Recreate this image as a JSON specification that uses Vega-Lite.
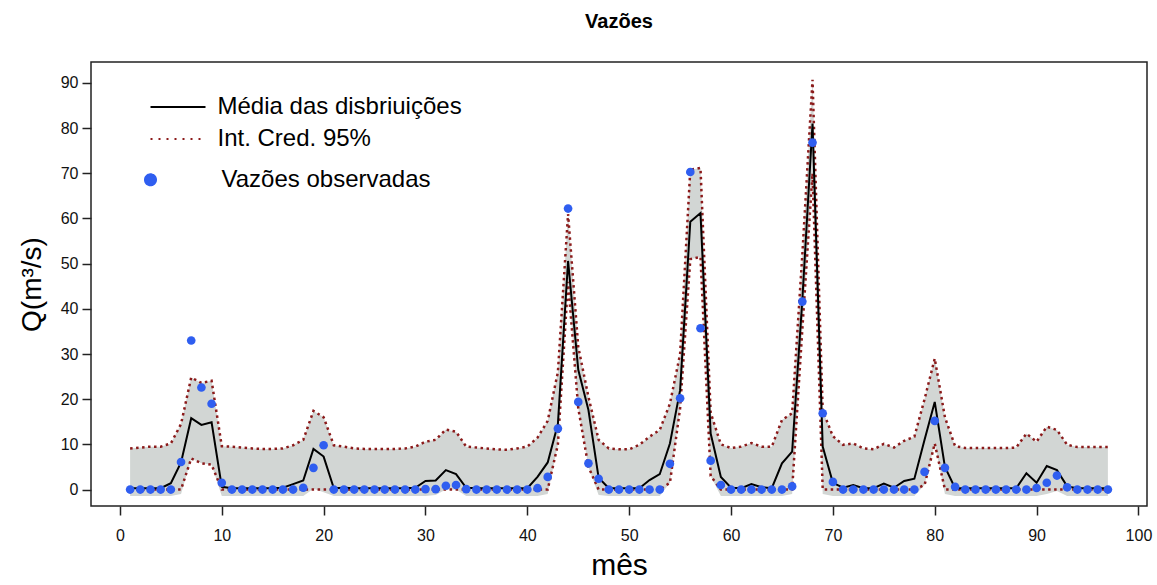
{
  "$schema": "https://vega.github.io/schema/vega-lite/v6.json",
  "width": 1056,
  "height": 444,
  "autosize": {"type": "none"},
  "padding": {"left": 91, "top": 62, "right": 10, "bottom": 79},
  "background": "white",
  "title": {"text": "Vazões", "fontSize": 20, "font": "Liberation Sans", "fontWeight": "bold", "offset": 30, "anchor": "middle", "color": "black"},
  "config": {
    "view": {"stroke": "#222", "strokeWidth": 1.5},
    "font": "Liberation Sans",
    "axis": {"domain": false, "grid": false, "tickColor": "#222", "tickWidth": 1.5, "tickSize": 9, "labelColor": "#111", "labelFont": "Liberation Sans", "labelFontSize": 16, "titleFont": "Liberation Sans", "titleFontWeight": "normal", "titleColor": "black"}
  },
  "data": {"values": [
    {"m": 1, "obs": 0, "mean": 0.3, "hi": 9.1, "lo": 0, "blo": -1.4},
    {"m": 2, "obs": 0, "mean": 0.3, "hi": 9.3, "lo": 0, "blo": -1.4},
    {"m": 3, "obs": 0, "mean": 0.3, "hi": 9.5, "lo": 0, "blo": -1.4},
    {"m": 4, "obs": 0, "mean": 0.3, "hi": 9.5, "lo": 0, "blo": -1.4},
    {"m": 5, "obs": 0, "mean": 1.4, "hi": 10.2, "lo": 0, "blo": -1.4},
    {"m": 6, "obs": 6.1, "mean": 6.0, "hi": 14.5, "lo": 0, "blo": -1.0},
    {"m": 7, "obs": 33.0, "mean": 15.8, "hi": 24.8, "lo": 6.9, "blo": 6.9},
    {"m": 8, "obs": 22.6, "mean": 14.3, "hi": 23.6, "lo": 5.8, "blo": 5.8},
    {"m": 9, "obs": 19.0, "mean": 14.9, "hi": 24.1, "lo": 5.5, "blo": 5.5},
    {"m": 10, "obs": 1.5, "mean": 0.6, "hi": 9.6, "lo": 0, "blo": -1.4},
    {"m": 11, "obs": 0, "mean": 0.3, "hi": 9.5, "lo": 0, "blo": -1.4},
    {"m": 12, "obs": 0, "mean": 0.3, "hi": 9.3, "lo": 0, "blo": -1.4},
    {"m": 13, "obs": 0, "mean": 0.3, "hi": 9.1, "lo": 0, "blo": -1.4},
    {"m": 14, "obs": 0, "mean": 0.3, "hi": 9.0, "lo": 0, "blo": -1.4},
    {"m": 15, "obs": 0, "mean": 0.3, "hi": 9.0, "lo": 0, "blo": -1.4},
    {"m": 16, "obs": 0, "mean": 0.4, "hi": 9.1, "lo": 0, "blo": -1.4},
    {"m": 17, "obs": 0, "mean": 1.2, "hi": 9.8, "lo": 0, "blo": -1.4},
    {"m": 18, "obs": 0.4, "mean": 2.0, "hi": 11.0, "lo": 0, "blo": -1.4},
    {"m": 19, "obs": 4.8, "mean": 9.0, "hi": 17.4, "lo": 0, "blo": 0.2},
    {"m": 20, "obs": 9.8, "mean": 7.3, "hi": 16.0, "lo": 0, "blo": -0.6},
    {"m": 21, "obs": 0, "mean": 0.3, "hi": 9.8, "lo": 0, "blo": -1.4},
    {"m": 22, "obs": 0, "mean": 0.4, "hi": 9.5, "lo": 0, "blo": -1.4},
    {"m": 23, "obs": 0, "mean": 0.3, "hi": 9.1, "lo": 0, "blo": -1.4},
    {"m": 24, "obs": 0, "mean": 0.3, "hi": 9.0, "lo": 0, "blo": -1.4},
    {"m": 25, "obs": 0, "mean": 0.3, "hi": 9.0, "lo": 0, "blo": -1.4},
    {"m": 26, "obs": 0, "mean": 0.3, "hi": 9.0, "lo": 0, "blo": -1.4},
    {"m": 27, "obs": 0, "mean": 0.3, "hi": 9.0, "lo": 0, "blo": -1.4},
    {"m": 28, "obs": 0, "mean": 0.3, "hi": 9.1, "lo": 0, "blo": -1.4},
    {"m": 29, "obs": 0, "mean": 0.4, "hi": 9.5, "lo": 0, "blo": -1.4},
    {"m": 30, "obs": 0.1, "mean": 1.9, "hi": 10.6, "lo": 0, "blo": -1.4},
    {"m": 31, "obs": 0.1, "mean": 2.0, "hi": 11.0, "lo": 0, "blo": -1.2},
    {"m": 32, "obs": 0.85, "mean": 4.3, "hi": 13.3, "lo": 0, "blo": 0},
    {"m": 33, "obs": 1.0, "mean": 3.4, "hi": 12.8, "lo": 0, "blo": 0},
    {"m": 34, "obs": 0.1, "mean": 0.4, "hi": 9.5, "lo": 0, "blo": -1.4},
    {"m": 35, "obs": 0, "mean": 0.3, "hi": 9.3, "lo": 0, "blo": -1.4},
    {"m": 36, "obs": 0, "mean": 0.3, "hi": 9.1, "lo": 0, "blo": -1.4},
    {"m": 37, "obs": 0, "mean": 0.3, "hi": 8.9, "lo": 0, "blo": -1.4},
    {"m": 38, "obs": 0, "mean": 0.3, "hi": 8.8, "lo": 0, "blo": -1.4},
    {"m": 39, "obs": 0, "mean": 0.3, "hi": 9.1, "lo": 0, "blo": -1.4},
    {"m": 40, "obs": 0, "mean": 0.3, "hi": 9.5, "lo": 0, "blo": -1.4},
    {"m": 41, "obs": 0.3, "mean": 2.8, "hi": 11.5, "lo": 0, "blo": -1.4},
    {"m": 42, "obs": 2.8, "mean": 6.0, "hi": 15.2, "lo": 0, "blo": -1.0},
    {"m": 43, "obs": 13.5, "mean": 14.5, "hi": 26.0, "lo": 10.0, "blo": 10.0},
    {"m": 44, "obs": 62.2, "mean": 50.6, "hi": 61.0, "lo": 46.0, "blo": 46.0},
    {"m": 45, "obs": 19.4, "mean": 26.5, "hi": 31.6, "lo": 18.0, "blo": 18.0},
    {"m": 46, "obs": 5.8, "mean": 17.6, "hi": 20.5, "lo": 5.0, "blo": 5.0},
    {"m": 47, "obs": 2.4, "mean": 2.6, "hi": 11.0, "lo": 0, "blo": -1.2},
    {"m": 48, "obs": 0, "mean": 0.3, "hi": 9.1, "lo": 0, "blo": -1.4},
    {"m": 49, "obs": 0, "mean": 0.3, "hi": 8.9, "lo": 0, "blo": -1.4},
    {"m": 50, "obs": 0, "mean": 0.3, "hi": 8.9, "lo": 0, "blo": -1.4},
    {"m": 51, "obs": 0, "mean": 0.3, "hi": 9.9, "lo": 0, "blo": -1.4},
    {"m": 52, "obs": 0, "mean": 2.1, "hi": 11.7, "lo": 0, "blo": -1.4},
    {"m": 53, "obs": 0, "mean": 3.4, "hi": 13.2, "lo": 0, "blo": -1.4},
    {"m": 54, "obs": 5.7, "mean": 10.2, "hi": 19.0, "lo": 1.5, "blo": 1.5},
    {"m": 55, "obs": 20.2, "mean": 22.0, "hi": 30.0, "lo": 18.0, "blo": 18.0},
    {"m": 56, "obs": 70.3, "mean": 59.3, "hi": 70.8, "lo": 51.0, "blo": 51.0},
    {"m": 57, "obs": 35.7, "mean": 61.2, "hi": 71.2, "lo": 51.5, "blo": 51.5},
    {"m": 58, "obs": 6.4, "mean": 12.4, "hi": 17.0, "lo": 3.0, "blo": 3.0},
    {"m": 59, "obs": 1.0, "mean": 2.8, "hi": 10.0, "lo": 0, "blo": -1.4},
    {"m": 60, "obs": 0, "mean": 0.4, "hi": 9.2, "lo": 0, "blo": -1.4},
    {"m": 61, "obs": 0, "mean": 0.3, "hi": 9.5, "lo": 0, "blo": -1.4},
    {"m": 62, "obs": 0, "mean": 1.2, "hi": 10.3, "lo": 0, "blo": -1.4},
    {"m": 63, "obs": 0, "mean": 0.5, "hi": 9.5, "lo": 0, "blo": -1.4},
    {"m": 64, "obs": 0, "mean": 0.3, "hi": 9.5, "lo": 0, "blo": -1.4},
    {"m": 65, "obs": 0, "mean": 5.8, "hi": 15.4, "lo": 0, "blo": -1.4},
    {"m": 66, "obs": 0.7, "mean": 8.4, "hi": 16.9, "lo": 0, "blo": -1.0},
    {"m": 67, "obs": 41.6, "mean": 42.0, "hi": 52.0, "lo": 35.5, "blo": 35.5},
    {"m": 68, "obs": 76.8, "mean": 81.0, "hi": 90.7, "lo": 70.0, "blo": 70.0},
    {"m": 69, "obs": 16.9, "mean": 9.5, "hi": 17.5, "lo": 0, "blo": -1.0},
    {"m": 70, "obs": 1.7, "mean": 1.5, "hi": 11.8, "lo": 0, "blo": -1.4},
    {"m": 71, "obs": 0, "mean": 0.4, "hi": 9.9, "lo": 0, "blo": -1.4},
    {"m": 72, "obs": 0, "mean": 1.0, "hi": 10.2, "lo": 0, "blo": -1.4},
    {"m": 73, "obs": 0, "mean": 0.3, "hi": 9.1, "lo": 0, "blo": -1.4},
    {"m": 74, "obs": 0, "mean": 0.3, "hi": 8.9, "lo": 0, "blo": -1.4},
    {"m": 75, "obs": 0, "mean": 1.3, "hi": 10.1, "lo": 0, "blo": -1.4},
    {"m": 76, "obs": 0, "mean": 0.4, "hi": 9.3, "lo": 0, "blo": -1.4},
    {"m": 77, "obs": 0, "mean": 1.9, "hi": 10.8, "lo": 0, "blo": -1.4},
    {"m": 78, "obs": 0, "mean": 2.4, "hi": 11.7, "lo": 0, "blo": -1.4},
    {"m": 79, "obs": 3.9, "mean": 11.0, "hi": 20.0, "lo": 1.0, "blo": 1.0},
    {"m": 80, "obs": 15.2, "mean": 19.4, "hi": 29.0, "lo": 10.2, "blo": 10.2},
    {"m": 81, "obs": 4.8, "mean": 5.0, "hi": 16.0, "lo": 0, "blo": -1.0},
    {"m": 82, "obs": 0.6, "mean": 0.3, "hi": 9.6, "lo": 0, "blo": -1.4},
    {"m": 83, "obs": 0, "mean": 0.3, "hi": 9.2, "lo": 0, "blo": -1.4},
    {"m": 84, "obs": 0, "mean": 0.3, "hi": 9.2, "lo": 0, "blo": -1.4},
    {"m": 85, "obs": 0, "mean": 0.3, "hi": 9.2, "lo": 0, "blo": -1.4},
    {"m": 86, "obs": 0, "mean": 0.3, "hi": 9.2, "lo": 0, "blo": -1.4},
    {"m": 87, "obs": 0, "mean": 0.3, "hi": 9.2, "lo": 0, "blo": -1.4},
    {"m": 88, "obs": 0, "mean": 0.3, "hi": 9.3, "lo": 0, "blo": -1.4},
    {"m": 89, "obs": 0, "mean": 3.6, "hi": 12.4, "lo": 0, "blo": -1.4},
    {"m": 90, "obs": 0.35, "mean": 1.5, "hi": 10.6, "lo": 0, "blo": -1.4},
    {"m": 91, "obs": 1.5, "mean": 5.2, "hi": 13.9, "lo": 0, "blo": -1.0},
    {"m": 92, "obs": 3.1, "mean": 4.3, "hi": 13.2, "lo": 0, "blo": -0.3},
    {"m": 93, "obs": 0.5, "mean": 0.7, "hi": 9.9, "lo": 0, "blo": -1.4},
    {"m": 94, "obs": 0, "mean": 0.3, "hi": 9.4, "lo": 0, "blo": -1.4},
    {"m": 95, "obs": 0, "mean": 0.3, "hi": 9.4, "lo": 0, "blo": -1.4},
    {"m": 96, "obs": 0, "mean": 0.3, "hi": 9.4, "lo": 0, "blo": -1.4},
    {"m": 97, "obs": 0, "mean": 0.3, "hi": 9.4, "lo": 0, "blo": -1.4}
  ]},
  "encoding": {
    "x": {"field": "m", "type": "quantitative",
      "scale": {"domain": [-2.84, 100.84], "nice": false, "zero": false},
      "axis": {"values": [0, 10, 20, 30, 40, 50, 60, 70, 80, 90, 100], "labelPadding": 12, "title": "mês", "titleFontSize": 30, "titlePadding": 7, "labelFlush": false}}
  },
  "layer": [
    {
      "mark": {"type": "area", "color": "#d2d6d4", "opacity": 1},
      "encoding": {
        "y": {"field": "hi", "type": "quantitative",
          "scale": {"domain": [-3.64, 94.64], "nice": false, "zero": false},
          "axis": {"values": [0, 10, 20, 30, 40, 50, 60, 70, 80, 90], "labelPadding": 4, "title": "Q(m³/s)", "titleFontSize": 28, "titlePadding": 14}},
        "y2": {"field": "blo"}
      }
    },
    {
      "mark": {"type": "line", "strokeWidth": 2.5, "strokeDash": [2.5, 3.5], "strokeCap": "butt"},
      "encoding": {
        "y": {"field": "hi", "type": "quantitative"},
        "color": {"datum": "Int. Cred. 95%"}
      }
    },
    {
      "mark": {"type": "line", "strokeWidth": 2.5, "strokeDash": [2.5, 3.5], "strokeCap": "butt"},
      "encoding": {
        "y": {"field": "lo", "type": "quantitative"},
        "color": {"datum": "Int. Cred. 95%"}
      }
    },
    {
      "mark": {"type": "line", "strokeWidth": 2},
      "encoding": {
        "y": {"field": "mean", "type": "quantitative"},
        "color": {"datum": "Média das disbriuições",
          "scale": {"domain": ["Média das disbriuições", "Int. Cred. 95%", "Vazões observadas"], "range": ["#000000", "#8b1a1a", "#2f5ef0"]},
          "legend": {
            "title": null, "orient": "none", "legendX": 42.5, "legendY": 28, "padding": 5,
            "symbolType": "M0,0H10", "symbolSize": 121, "symbolStrokeWidth": 2,
            "labelFont": "Liberation Sans", "labelFontSize": 24, "labelColor": "black", "labelLimit": 0,
            "labelOffset": 55, "rowPadding": 8,
            "encode": {
              "symbols": {"update": {
                "shape": {"signal": "datum.value === 'Vazões observadas' ? 'M-1,1.6A1,1 0 1,0 1,1.6A1,1 0 1,0 -1,1.6Z' : 'M0,0H10'"},
                "fill": {"signal": "datum.value === 'Vazões observadas' ? '#2f5ef0' : 'transparent'"},
                "stroke": {"signal": "datum.value === 'Vazões observadas' ? 'transparent' : (datum.value === 'Int. Cred. 95%' ? '#8b1a1a' : '#000000')"},
                "strokeDash": {"signal": "datum.value === 'Int. Cred. 95%' ? [2, 6] : [1, 0]"},
                "strokeWidth": {"value": 2},
                "opacity": {"value": 1}
              }},
              "labels": {"update": {
                "dy": {"signal": "datum.value === 'Vazões observadas' ? 9 : 0"},
                "dx": {"signal": "datum.value === 'Vazões observadas' ? 4 : 0"}
              }}
            }
          }
        }
      }
    },
    {
      "mark": {"type": "point", "filled": true, "size": 75, "opacity": 1, "shape": "circle"},
      "encoding": {
        "y": {"field": "obs", "type": "quantitative"},
        "color": {"datum": "Vazões observadas"}
      }
    }
  ]
}
